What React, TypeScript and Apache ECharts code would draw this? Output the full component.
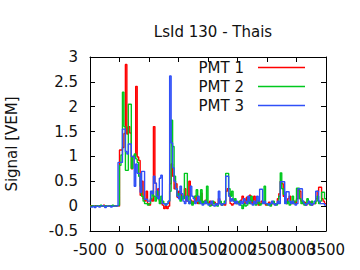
import React, { useEffect, useRef } from 'react';
import * as echarts from 'echarts';

// Histogram bins: 25 ns wide, starting at -500 ns
const binStart = -500;
const binWidth = 25;

const pmt1: number[] = [
  0.01, 0, 0, 0.01, 0, 0, 0.01, 0, 0, 0.02, 0, 0, 0.01, 0, 0, 0, 0.01, 0, 0.01, 0,
  1.13, 1.13, 1.18, 1.46, 2.85, 1.45, 1.6, 1.47, 0.75, 1.0, 1.02, 2.41, 0.99, 0.92, 0.22, 0.5, 0.15, 0.1, 0.3, 0.05,
  0.02, 0.15, 0.1, 1.6, 0.46, 0.2, 0.35, 0.1, 0.05, 0.02, -0.05, 0.0, -0.05, 0.0, 0.45, 0.85, 0.6, 0.35, 0.45, 0.18,
  0.3, 0.25, 0.15, 0.2, 0.35, 0.1, 0.2, 0.5, 0.12, 0.05, 0.1, 0.2, 0.08, 0.05, 0.12, 0.26, 0.08, 0.05, 0.12, 0.08,
  0.05, 0.1, 0.02, 0.05, 0.08, 0.03, 0.05, 0.15, 0.05, 0.02, 0.05, 0.02, 0.3, 0.35, 0.25, 0.05, 0.02, 0.05, 0.1, 0.05,
  0.08, 0.05, 0.12, 0.2, 0.15, 0.05, 0.18, 0.1, 0.22, 0.05, 0.12, 0.2, 0.05, 0.08, 0.02, 0.05, 0.1, 0.08, 0.05, 0.02,
  0.05, 0.08, 0.02, 0.05, 0.05, 0.03, 0.05, 0.15, 0.25, 0.5, 0.45, 0.2, 0.1, 0.05, 0.15, 0.2, 0.08, 0.05, 0.1, 0.05,
  0.15, 0.35, 0.3, 0.1, 0.05, 0.08, 0.02, 0.05, 0.05, 0.08, 0.02, 0.05, 0.05, 0.15, 0.3, 0.38, 0.38, 0.15, 0.1, 0.05,
];

const pmt2: number[] = [
  0, 0.01, 0, 0, 0.01, 0, 0, 0.02, 0, 0, 0.01, 0, 0, 0.01, 0, 0.02, 0, 0, 0.01, 0.02,
  0.82, 1.03, 2.29, 1.6, 0.72, 0.72, 2.05, 2.05, 0.76, 1.0, 1.05, 0.95, 0.88, 0.6, 0.4, 0.2, 0.1, 0.05, 0.05, 0.02,
  0.05, 0.15, 0.3, 0.2, 0.1, 0.3, 0.15, 0.05, 0.2, 0.1, 0.05, 0.02, 0.05, 0.1, 0.3, 1.73, 1.2, 0.6, 0.35, 0.2,
  0.25, 0.1, 0.2, 0.15, 0.66, 0.66, 0.2, 0.05, 0.1, 0.02, 0.08, 0.2, 0.33, 0.1, 0.05, 0.33, 0.05, 0.1, 0.05, 0.4,
  0.05, 0.0, 0.02, 0.1, 0.05, 0.02, 0.0, 0.05, 0.1, 0.02, 0.05, 0.1, 0.66, 0.66, 0.35, 0.2, 0.3, 0.1, 0.15, 0.05,
  0.05, 0.1, 0.02, -0.05, 0.05, 0.0, 0.02, 0.15, 0.05, 0.2, 0.1, 0.05, 0.02, 0.05, 0.1, 0.02, 0.05, 0.08, 0.4, 0.05,
  0.02, 0.05, 0.0, 0.05, 0.1, 0.05, 0.02, 0.05, 0.2, 0.67, 0.35, 0.24, 0.1, 0.05, 0.1, 0.02, 0.05, 0.2, 0.05, 0.1,
  0.36, 0.36, 0.15, 0.05, 0.1, 0.02, 0.05, 0.15, 0.05, 0.02, 0.1, 0.05, 0.05, 0.1, 0.2, 0.05, 0.1, 0.28, 0.28, 0.15,
];

const pmt3: number[] = [
  -0.02, -0.02, 0, -0.03, 0, 0, -0.02, 0, 0.01, 0, -0.03, 0, 0, 0.01, -0.02, 0, 0, 0.01, 0, 0.88,
  0.88, 0.88, 1.55, 1.55, 1.1, 1.05, 1.25, 1.25, 1.0, 1.0, 0.4, 0.85, 0.66, 0.66, 0.28, 0.7, 0.7, 0.14, 0.14, 0.1,
  0.1, 0.3, 0.25, 0.6, 0.46, 0.2, 0.15, 0.56, 0.62, 0.05, 0.05, 0.02, 0.05, 0.1, 2.62, 1.27, 0.77, 0.5, 0.35, 0.2,
  0.15, 0.4, 0.25, 0.1, 0.05, 0.2, 0.1, 0.05, 0.4, 0.2, 0.15, 0.05, 0.1, 0.2, 0.1, 0.05, 0.02, 0.05, 0.1, 0.05,
  0.02, 0.05, 0.1, 0.02, 0.0, 0.05, 0.02, 0.3, 0.05, 0.02, 0.05, 0.05, 0.6, 0.6, 0.2, 0.1, 0.15, 0.1, 0.05, 0.1,
  0.05, 0.02, 0.1, 0.05, 0.15, 0.1, 0.05, 0.2, 0.1, 0.05, 0.02, 0.1, 0.05, 0.2, 0.1, 0.34, 0.34, 0.05, 0.1, 0.05,
  0.05, 0.02, 0.05, 0.1, 0.05, 0.02, 0.05, 0.1, 0.05, 0.49, 0.49, 0.49, 0.05, 0.29, 0.29, 0.1, 0.05, 0.1, 0.05, 0.02,
  0.05, 0.35, 0.35, 0.35, 0.1, 0.05, 0.02, 0.05, 0.1, 0.05, 0.02, 0.05, 0.1, 0.3, 0.3, 0.1, 0.05, 0.05, 0.05, 0.02,
];

const seriesNames = ['PMT 1', 'PMT 2', 'PMT 3'];
const seriesColors = ['#ff0000', '#00c81e', '#3050f8'];
const titleText = 'LsId 130 - Thais';
const yAxisTitle = 'Signal [VEM]';
const xTicks = { min: -500, max: 3500, interval: 500 };
const yTicks = { min: -0.5, max: 3, interval: 0.5 };

const FONT = 'DejaVu Sans';

function toSteps(values: number[]): [number, number][] {
  const pts: [number, number][] = values.map((v, i) => [binStart + i * binWidth, v]);
  pts.push([binStart + values.length * binWidth, values[values.length - 1]]);
  return pts;
}

export default function App() {
  const ref = useRef<HTMLDivElement>(null);
  useEffect(() => {
    if (!ref.current) return;
    const chart = echarts.init(ref.current, null, { renderer: 'svg' });
    const axisLine = { show: true, onZero: false, lineStyle: { color: '#000', width: 1 } };
    const tick = { show: true, inside: true, length: 5, lineStyle: { color: '#000', width: 1 } };
    const label = {
      fontFamily: FONT, fontSize: 15, color: '#111',
      hideOverlap: false,
      formatter: (v: number) => String(v),
    };
    const all = [pmt1, pmt2, pmt3];
    chart.setOption({
      animation: false,
      backgroundColor: '#fff',
      title: {
        text: titleText,
        left: 208,
        textAlign: 'center',
        top: 19,
        textStyle: { fontFamily: FONT, fontSize: 15, fontWeight: 'normal', color: '#111' },
      },
      grid: { left: 90, right: 34, top: 57, bottom: 39, containLabel: false, outerBoundsMode: 'none' },
      legend: {
        orient: 'vertical',
        right: 55,
        top: 59,
        align: 'right',
        icon: 'rect',
        itemWidth: 47,
        itemHeight: 1.5,
        itemGap: 2,
        padding: 0,
        data: seriesNames,
        textStyle: { fontFamily: FONT, fontSize: 15, color: '#111', lineHeight: 17, padding: [0, 9, 0, 0] },
      },
      xAxis: [
        {
          type: 'value', position: 'bottom', ...xTicks,
          axisLine, axisTick: tick, splitLine: { show: false },
          axisLabel: { ...label, margin: 11, showMinLabel: true, showMaxLabel: false },
        },
        {
          type: 'value', position: 'top', ...xTicks,
          axisLine, axisTick: tick, splitLine: { show: false },
          axisLabel: { show: false },
        },
        {
          // carries only the final tick label (3500), which the first axis drops when labels crowd
          type: 'value', position: 'bottom', ...xTicks,
          axisLine: { show: false, onZero: false }, axisTick: { show: false }, splitLine: { show: false },
          axisLabel: {
            ...label, margin: 11, showMinLabel: false, showMaxLabel: true,
            formatter: (v: number) => (v === xTicks.max ? String(v) : ''),
          },
        },
      ],
      yAxis: [
        {
          type: 'value', position: 'left', ...yTicks,
          axisLine, axisTick: tick, splitLine: { show: false },
          axisLabel: { ...label, margin: 12, showMinLabel: true, showMaxLabel: true },
          name: yAxisTitle,
          nameLocation: 'middle',
          nameGap: 71,
          nameTextStyle: { fontFamily: FONT, fontSize: 15, color: '#111' },
        },
        {
          type: 'value', position: 'right', ...yTicks,
          axisLine, axisTick: tick, splitLine: { show: false },
          axisLabel: { show: false },
        },
      ],
      series: all.map((vals, k) => ({
        name: seriesNames[k],
        type: 'line',
        step: 'end',
        xAxisIndex: 0,
        yAxisIndex: 0,
        data: toSteps(vals),
        showSymbol: false,
        symbol: 'none',
        silent: true,
        lineStyle: { color: seriesColors[k], width: 1.4 },
        itemStyle: { color: seriesColors[k] },
      })),
    });
    return () => chart.dispose();
  }, []);
  return (
    <div
      ref={ref}
      style={{ position: 'fixed', left: 0, top: 0, width: 360, height: 270, background: '#fff' }}
    />
  );
}
